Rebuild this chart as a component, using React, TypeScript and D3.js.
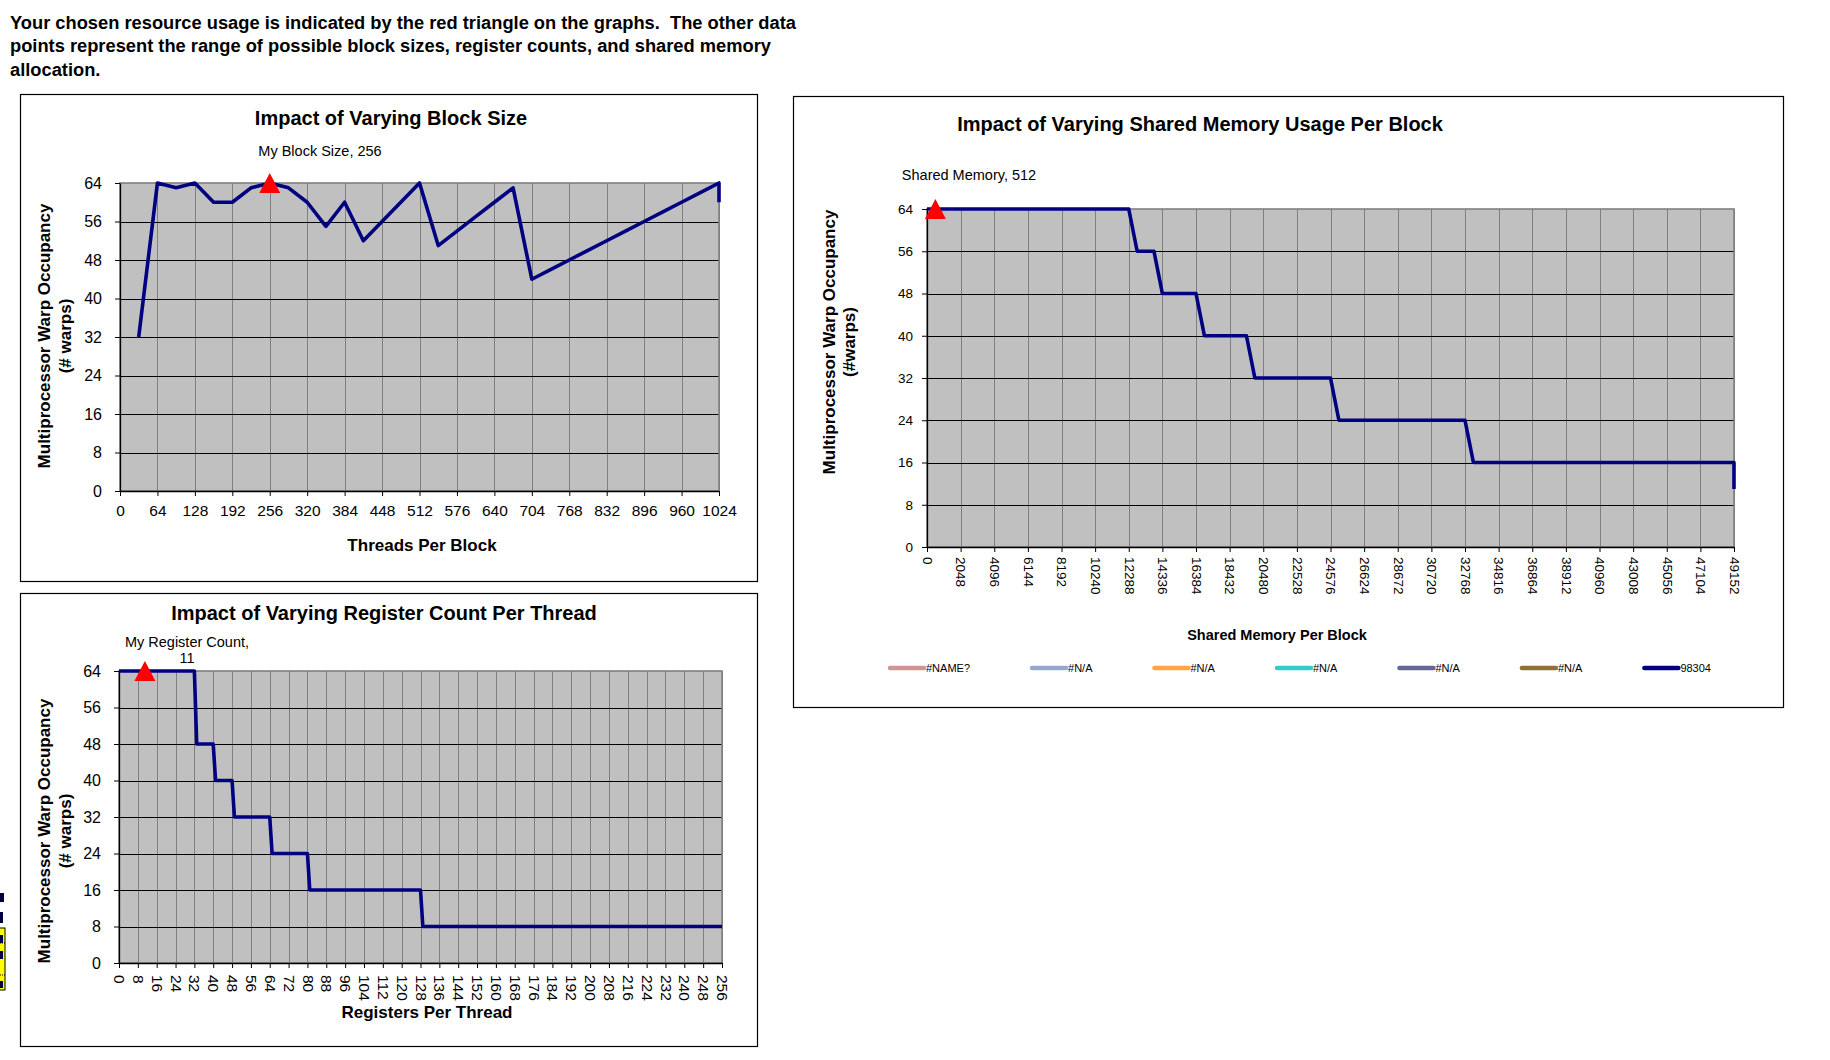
import React, { useEffect, useRef } from "react";
import * as d3 from "d3";

// ---------------- DATA ----------------
const headerLines = [
  "Your chosen resource usage is indicated by the red triangle on the graphs.  The other data",
  "points represent the range of possible block sizes, register counts, and shared memory",
  "allocation.",
];

const warpTicks = [0, 8, 16, 24, 32, 40, 48, 56, 64];

// Chart 1: block size
const blockTicks = [0, 64, 128, 192, 256, 320, 384, 448, 512, 576, 640, 704, 768, 832, 896, 960, 1024];
const blockSizes = [32, 64, 96, 128, 160, 192, 224, 256, 288, 320, 352, 384, 416, 448, 480, 512, 544, 576, 608, 640, 672, 704, 736, 768, 800, 832, 864, 896, 928, 960, 992, 1024, 1024];
const blockWarps = [32, 64, 63, 64, 60, 60, 63, 64, 63, 60, 55, 60, 52, 56, 60, 64, 51, 54, 57, 60, 63, 44, 46, 48, 50, 52, 54, 56, 58, 60, 62, 64, 60];
const myBlock = { label: "My Block Size, 256", x: 256, y: 64 };

// Chart 2: registers
const regTicks = [0, 8, 16, 24, 32, 40, 48, 56, 64, 72, 80, 88, 96, 104, 112, 120, 128, 136, 144, 152, 160, 168, 176, 184, 192, 200, 208, 216, 224, 232, 240, 248, 256];
const regCounts = [0, 32, 33, 40, 41, 48, 49, 64, 65, 80, 81, 128, 129, 256];
const regWarps = [64, 64, 48, 48, 40, 40, 32, 32, 24, 24, 16, 16, 8, 8];
const myReg = { label: ["My Register Count,", "11"], x: 11, y: 64 };

// Chart 3: shared memory
const smemTicks = [0, 2048, 4096, 6144, 8192, 10240, 12288, 14336, 16384, 18432, 20480, 22528, 24576, 26624, 28672, 30720, 32768, 34816, 36864, 38912, 40960, 43008, 45056, 47104, 49152];
const smemBytes = [0, 12288, 12800, 13824, 14336, 16384, 16896, 19456, 19968, 24576, 25088, 32768, 33280, 49152, 49152];
const smemWarps = [64, 64, 56, 56, 48, 48, 40, 40, 32, 32, 24, 24, 16, 16, 11];
const mySmem = { label: "Shared Memory, 512", x: 512, y: 64 };

const legendNames = ["#NAME?", "#N/A", "#N/A", "#N/A", "#N/A", "#N/A", "98304"];
const legendColors = ["#D09494", "#95A8D0", "#FFA545", "#33CCCC", "#666699", "#8F7036", "#000080"];

// ---------------- STYLE ----------------
const FONT = "'Liberation Sans', Arial, Helvetica, sans-serif";
const NAVY = "#000080";

type Cfg = {
  frame: [number, number, number, number];
  plot: [number, number, number, number];
  xMax: number;
  xTicks: number[];
  xs: number[];
  ys: number[];
  title: string;
  titlePos: [number, number];
  xTitle: string;
  xTitlePos: [number, number];
  xTitleSize: number;
  yTitle: [string, string];
  yTitleX: [number, number];
  yTitleY: number;
  tickSize: number;
  yTickSize: number;
  xPad: number;
  yPad: number;
  rotateX: boolean;
  marker: { x: number; y: number };
  markerLabel: string[];
  markerLabelPos: [number, number];
  vGridEvery: number[];
};

function drawPanel(root: any, c: Cfg) {
  const g = root.append("g");
  const [fx, fy, fw, fh] = c.frame;
  g.append("rect")
    .attr("x", fx + 0.5).attr("y", fy + 0.5).attr("width", fw).attr("height", fh)
    .attr("fill", "#fff").attr("stroke", "#000").attr("stroke-width", 1.2);

  const [px0, py0, px1, py1] = c.plot;
  const x = d3.scaleLinear().domain([0, c.xMax]).range([px0, px1]);
  const y = d3.scaleLinear().domain([0, 64]).range([py1, py0]);

  g.append("rect")
    .attr("x", px0).attr("y", py0).attr("width", px1 - px0).attr("height", py1 - py0)
    .attr("fill", "#C0C0C0");

  // vertical gridlines
  g.append("g").selectAll("line").data(c.vGridEvery.filter((t) => t > 0)).join("line")
    .attr("x1", (d: number) => Math.round(x(d)) + 0.5).attr("x2", (d: number) => Math.round(x(d)) + 0.5)
    .attr("y1", py0).attr("y2", py1)
    .attr("stroke", "#808080").attr("stroke-width", 1);

  // horizontal gridlines
  g.append("g").selectAll("line").data(warpTicks.filter((t) => t > 0 && t < 64)).join("line")
    .attr("x1", px0).attr("x2", px1)
    .attr("y1", (d: number) => Math.round(y(d)) + 0.5).attr("y2", (d: number) => Math.round(y(d)) + 0.5)
    .attr("stroke", "#000").attr("stroke-width", 1.2);

  // plot border (gray)
  g.append("rect")
    .attr("x", px0).attr("y", py0).attr("width", px1 - px0).attr("height", py1 - py0)
    .attr("fill", "none").attr("stroke", "#808080").attr("stroke-width", 1.6);

  // axes
  const ax = g.append("g").attr("transform", `translate(0,${py1})`)
    .call(d3.axisBottom(x).tickValues(c.xTicks).tickSize(5).tickSizeOuter(0).tickPadding(c.xPad).tickFormat(d3.format("d")));
  const ay = g.append("g").attr("transform", `translate(${px0},0)`)
    .call(d3.axisLeft(y).tickValues(warpTicks).tickSize(5).tickSizeOuter(0).tickPadding(c.yPad).tickFormat(d3.format("d")));
  [ax, ay].forEach((a) => {
    a.select(".domain").attr("stroke", "#000").attr("stroke-width", 1.3);
    a.selectAll(".tick line").attr("stroke", "#000");
    a.selectAll("text").attr("font-family", FONT).attr("fill", "#000");
  });
  ax.selectAll("text").attr("font-size", c.tickSize);
  ay.selectAll("text").attr("font-size", c.yTickSize);
  if (c.rotateX) {
    ax.selectAll("text")
      .attr("transform", "rotate(90)")
      .attr("x", 5 + c.xPad).attr("y", 0).attr("dy", "0.35em")
      .attr("text-anchor", "start");
  }

  // line
  const line = d3.line<[number, number]>().x((d) => x(d[0])).y((d) => y(d[1]));
  g.append("path")
    .datum(d3.zip(c.xs, c.ys) as [number, number][])
    .attr("d", line)
    .attr("fill", "none").attr("stroke", NAVY).attr("stroke-width", 3.6)
    .attr("stroke-linejoin", "round");

  // marker triangle
  const mx = x(c.marker.x), my = y(c.marker.y);
  g.append("path")
    .attr("d", `M${mx},${my - 10} L${mx + 10.5},${my + 10} L${mx - 10.5},${my + 10} Z`)
    .attr("fill", "#FF0000");

  // marker label
  const ml = g.append("text")
    .attr("x", c.markerLabelPos[0]).attr("y", c.markerLabelPos[1])
    .attr("text-anchor", "middle").attr("font-family", FONT).attr("font-size", 14.5).attr("fill", "#000");
  c.markerLabel.forEach((s, i) => {
    ml.append("tspan").attr("x", c.markerLabelPos[0]).attr("dy", i === 0 ? 0 : 16).text(s);
  });

  // title
  g.append("text")
    .attr("x", c.titlePos[0]).attr("y", c.titlePos[1]).attr("text-anchor", "middle")
    .attr("dominant-baseline", "central")
    .attr("font-family", FONT).attr("font-weight", "bold").attr("font-size", 20).attr("fill", "#000")
    .text(c.title);

  // x title
  g.append("text")
    .attr("x", c.xTitlePos[0]).attr("y", c.xTitlePos[1]).attr("text-anchor", "middle")
    .attr("dominant-baseline", "central")
    .attr("font-family", FONT).attr("font-weight", "bold").attr("font-size", c.xTitleSize).attr("fill", "#000")
    .text(c.xTitle);

  // y title (two lines)
  c.yTitle.forEach((s, i) => {
    g.append("text")
      .attr("transform", `translate(${c.yTitleX[i]},${c.yTitleY}) rotate(-90)`)
      .attr("text-anchor", "middle").attr("dominant-baseline", "central")
      .attr("font-family", FONT).attr("font-weight", "bold").attr("font-size", 17).attr("fill", "#000")
      .text(s);
  });
  return { g, x, y };
}

export default function App() {
  const ref = useRef<SVGSVGElement>(null);
  useEffect(() => {
    const svg = d3.select(ref.current);
    svg.selectAll("*").remove();

    // header
    headerLines.forEach((s, i) => {
      svg.append("text")
        .attr("x", 10).attr("y", 28.5 + i * 23.5)
        .attr("font-family", FONT).attr("font-weight", "bold").attr("font-size", 18.3)
        .style("white-space", "pre").attr("fill", "#000")
        .text(s);
    });

    drawPanel(svg, {
      frame: [20, 94, 737, 487],
      plot: [120, 183, 719, 491],
      xMax: 1024,
      xTicks: blockTicks,
      vGridEvery: blockTicks,
      xs: blockSizes,
      ys: blockWarps,
      title: "Impact of Varying Block Size",
      titlePos: [391, 118],
      xTitle: "Threads Per Block",
      xTitlePos: [422, 545],
      xTitleSize: 17,
      yTitle: ["Multiprocessor Warp Occupancy", "(# warps)"],
      yTitleX: [44, 65],
      yTitleY: 336,
      tickSize: 15.5,
      yTickSize: 16,
      xPad: 9,
      yPad: 13,
      rotateX: false,
      marker: myBlock,
      markerLabel: [myBlock.label],
      markerLabelPos: [320, 156],
    });

    drawPanel(svg, {
      frame: [20, 593, 737, 453],
      plot: [119, 671, 722, 963],
      xMax: 256,
      xTicks: regTicks,
      vGridEvery: regTicks,
      xs: regCounts,
      ys: regWarps,
      title: "Impact of Varying Register Count Per Thread",
      titlePos: [384, 613],
      xTitle: "Registers Per Thread",
      xTitlePos: [427, 1012],
      xTitleSize: 17,
      yTitle: ["Multiprocessor Warp Occupancy", "(# warps)"],
      yTitleX: [44, 65],
      yTitleY: 831,
      tickSize: 15.5,
      yTickSize: 16,
      xPad: 7,
      yPad: 13,
      rotateX: true,
      marker: myReg,
      markerLabel: myReg.label,
      markerLabelPos: [187, 647],
    });

    const p3 = drawPanel(svg, {
      frame: [793, 96, 990, 611],
      plot: [927, 209, 1734, 547],
      xMax: 49152,
      xTicks: smemTicks,
      vGridEvery: smemTicks,
      xs: smemBytes,
      ys: smemWarps,
      title: "Impact of Varying Shared Memory Usage Per Block",
      titlePos: [1200, 124],
      xTitle: "Shared Memory Per Block",
      xTitlePos: [1277, 635],
      xTitleSize: 14.5,
      yTitle: ["Multiprocessor Warp Occupancy", "(#warps)"],
      yTitleX: [829, 849],
      yTitleY: 342,
      tickSize: 13.5,
      yTickSize: 13.5,
      xPad: 5,
      yPad: 9,
      rotateX: true,
      marker: mySmem,
      markerLabel: [mySmem.label],
      markerLabelPos: [969, 180],
    });

    // legend
    const lg = p3.g.append("g");
    let lx = 888;
    const ly = 668;
    legendNames.forEach((name, i) => {
      lg.append("line")
        .attr("x1", lx + 2).attr("x2", lx + 36).attr("y1", ly).attr("y2", ly)
        .attr("stroke", legendColors[i]).attr("stroke-width", 4.5).attr("stroke-linecap", "round");
      const t = lg.append("text")
        .attr("x", lx + 38).attr("y", ly).attr("dominant-baseline", "central")
        .attr("font-family", FONT).attr("font-size", 11).attr("fill", "#000")
        .text(name);
      const w = (t.node() as SVGTextElement).getComputedTextLength();
      lx += 38 + w + 60;
    });

    // cut-off yellow cell at the left edge (shapes only)
    const yc = svg.append("g").attr("fill", "#000040");
    yc.append("rect").attr("x", 0).attr("y", 893).attr("width", 4).attr("height", 9);
    yc.append("rect").attr("x", 0).attr("y", 912).attr("width", 3).attr("height", 11);
    yc.append("rect").attr("x", -2).attr("y", 928).attr("width", 7).attr("height", 62)
      .attr("fill", "#FFFF00").attr("stroke", "#000").attr("stroke-width", 1);
    [943, 975].forEach((yy) => {
      yc.append("line").attr("x1", -2).attr("x2", 5).attr("y1", yy).attr("y2", yy)
        .attr("stroke", "#000").attr("stroke-dasharray", "1,1");
    });
    [[935, 8], [951, 8], [981, 7]].forEach(([yy, h]) => {
      yc.append("rect").attr("x", 0).attr("y", yy).attr("width", 3).attr("height", h);
    });
  }, []);

  return (
    <div style={{ position: "absolute", left: 0, top: 0 }}>
      <svg ref={ref} width={1830} height={1060} style={{ display: "block", background: "#fff" }} />
    </div>
  );
}
